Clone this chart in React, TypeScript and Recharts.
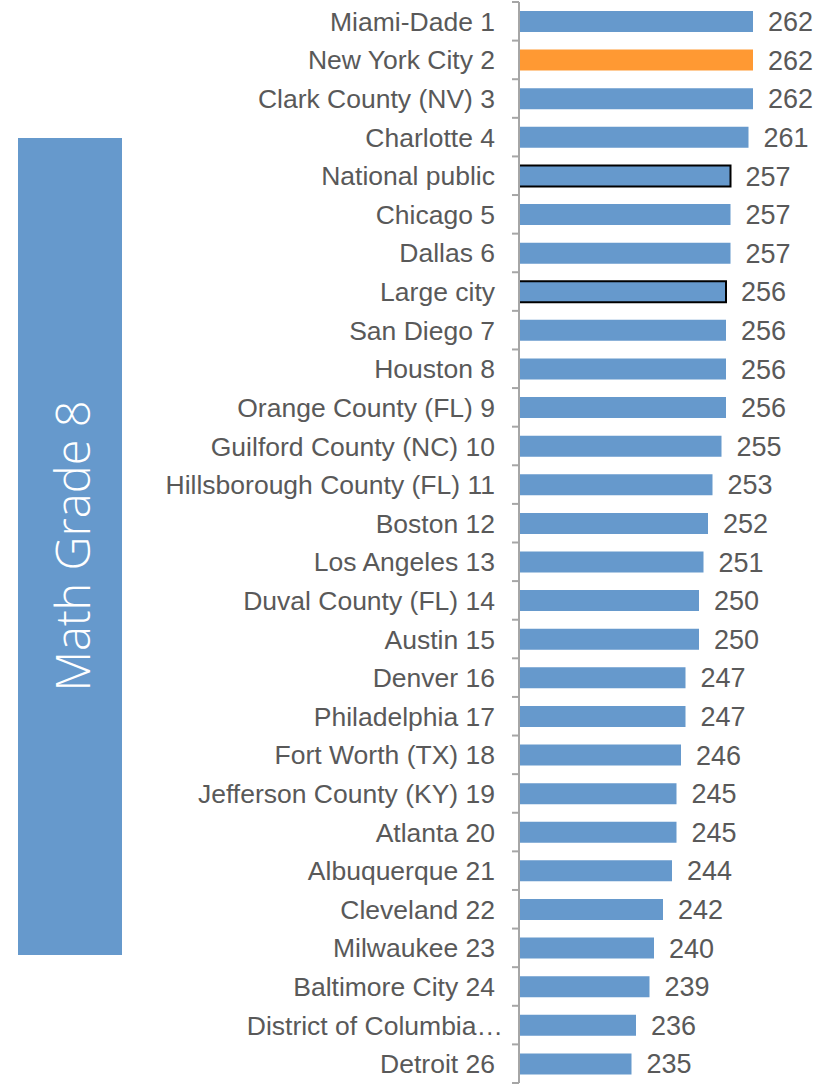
import React from 'react';
import { BarChart, Bar, XAxis, YAxis, Cell, LabelList } from 'recharts';

const categories = [
  'Miami-Dade 1',
  'New York City 2',
  'Clark County (NV) 3',
  'Charlotte 4',
  'National public',
  'Chicago 5',
  'Dallas 6',
  'Large city',
  'San Diego 7',
  'Houston 8',
  'Orange County (FL) 9',
  'Guilford County (NC) 10',
  'Hillsborough County (FL) 11',
  'Boston 12',
  'Los Angeles 13',
  'Duval County (FL) 14',
  'Austin 15',
  'Denver 16',
  'Philadelphia 17',
  'Fort Worth (TX) 18',
  'Jefferson County (KY) 19',
  'Atlanta 20',
  'Albuquerque 21',
  'Cleveland 22',
  'Milwaukee 23',
  'Baltimore City 24',
  'District of Columbia…',
  'Detroit 26',
];

const scores = [
  262, 262, 262, 261, 257, 257, 257, 256, 256, 256, 256, 255, 253, 252,
  251, 250, 250, 247, 247, 246, 245, 245, 244, 242, 240, 239, 236, 235,
];

// which rows are drawn differently
const highlighted = ['New York City 2'];
const benchmarks = ['National public', 'Large city'];

const BLUE = '#6699cc';
const ORANGE = '#ff9933';
const TEXT = '#595959';
const AXIS = '#a6a6a6';

const WIDTH = 828;
const HEIGHT = 1084;
const MARGIN = { top: 2, right: 39, bottom: 1, left: 0 };
const AXIS_X = 519;
const BAND = (HEIGHT - MARGIN.top - MARGIN.bottom) / categories.length;

const data = categories.map((name, i) => ({ name, value: scores[i] }));

const CategoryTick = (props: any) => {
  const { y, payload, index } = props;
  const top = y - BAND / 2;
  const truncated = String(payload.value).endsWith('…');
  return (
    <g>
      <line x1={AXIS_X - 7} x2={AXIS_X} y1={top} y2={top} stroke={AXIS} strokeWidth={2} />
      {index === categories.length - 1 && (
        <line x1={AXIS_X - 7} x2={AXIS_X} y1={top + BAND} y2={top + BAND} stroke={AXIS} strokeWidth={2} />
      )}
      <text
        x={truncated ? 503 : 495}
        y={y}
        dy="0.36em"
        textAnchor="end"
        fill={TEXT}
        fontSize={26.5}
      >
        {payload.value}
      </text>
    </g>
  );
};

const App: React.FC = () => {
  return (
    <div
      style={{
        position: 'absolute',
        left: 0,
        top: 0,
        width: WIDTH,
        height: HEIGHT,
        background: '#fff',
        fontFamily: '"Liberation Sans", Arial, sans-serif',
      }}
    >
      <div
        style={{
          position: 'absolute',
          left: 18,
          top: 138,
          width: 104,
          height: 817,
          background: BLUE,
        }}
      >
        <div
          style={{
            position: 'absolute',
            left: 54,
            top: 408,
            transform: 'translate(-50%, -50%) rotate(-90deg)',
            whiteSpace: 'nowrap',
            color: '#fff',
            fontFamily: '"Open Sans", sans-serif',
            fontWeight: 300,
            fontSize: 47,
            lineHeight: 1,
          }}
        >
          Math Grade 8
        </div>
      </div>
      <BarChart width={WIDTH} height={HEIGHT} data={data} layout="vertical" margin={MARGIN}>
        <XAxis type="number" domain={[210, 270]} hide />
        <YAxis
          type="category"
          dataKey="name"
          width={AXIS_X}
          axisLine={{ stroke: AXIS, strokeWidth: 2 }}
          tickLine={false}
          tick={<CategoryTick />}
          interval={0}
        />
        <Bar dataKey="value" barSize={21} isAnimationActive={false}>
          {data.map((entry, index) => {
            const isBench = benchmarks.includes(entry.name);
            return (
              <Cell
                key={`cell-${index}`}
                fill={highlighted.includes(entry.name) ? ORANGE : BLUE}
                stroke={isBench ? '#000' : 'none'}
                strokeWidth={isBench ? 2 : 0}
              />
            );
          })}
          <LabelList dataKey="value" position="right" offset={15} fill={TEXT} fontSize={27} />
        </Bar>
      </BarChart>
    </div>
  );
};

export default App;
